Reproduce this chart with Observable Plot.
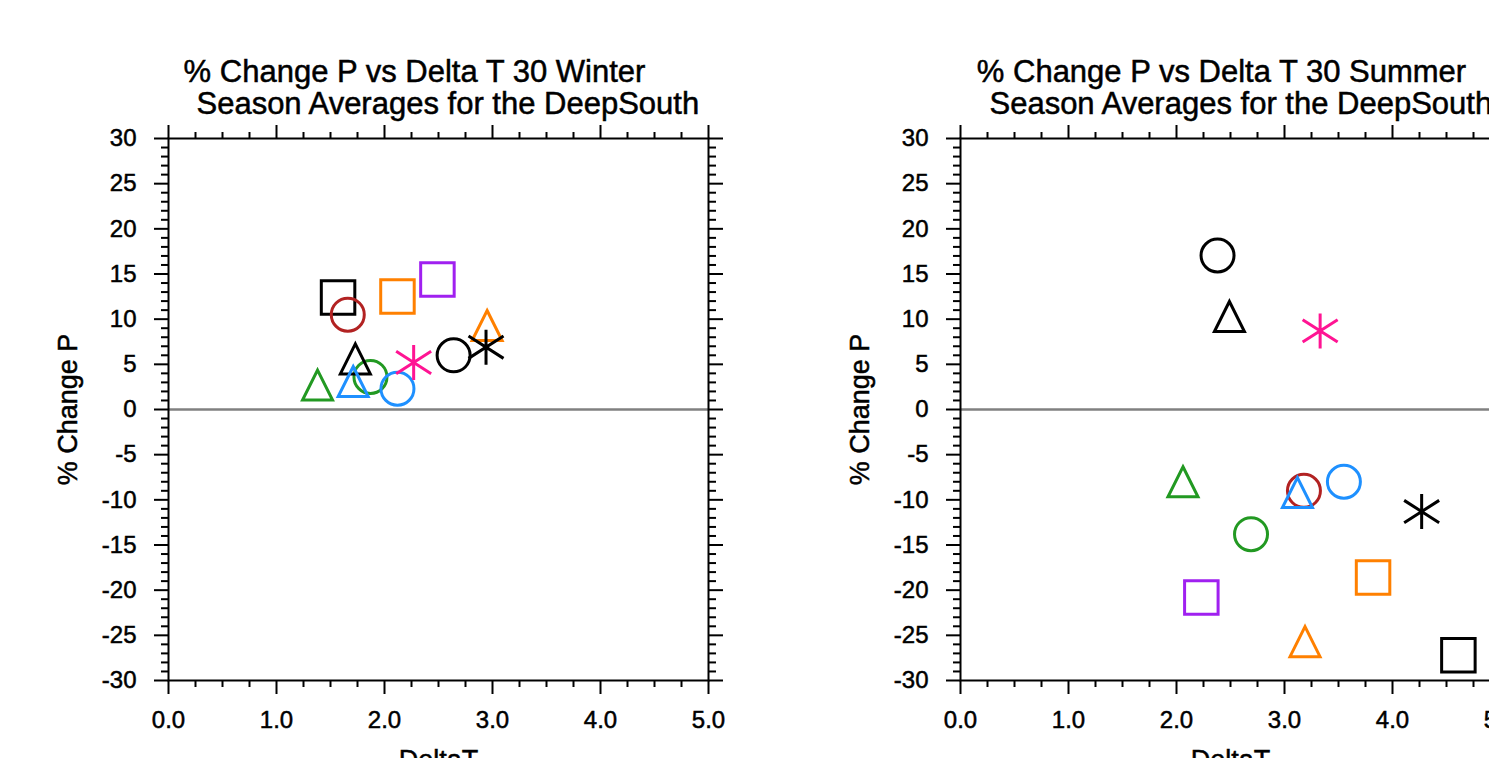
<!DOCTYPE html>
<html>
<head>
<meta charset="utf-8">
<script src="https://cdn.jsdelivr.net/npm/d3@7"></script>
<script src="https://cdn.jsdelivr.net/npm/@observablehq/plot@0.6"></script>
<style>
  html, body { margin: 0; padding: 0; background: #fff; }
  body { width: 1489px; height: 758px; overflow: hidden; position: relative; font-family: "Liberation Sans", Arial, sans-serif; }
  .panel { position: absolute; top: 0; width: 760px; height: 758px; }
  .panel svg { max-width: none !important; display: block; }
  .panel svg text { stroke: #000; stroke-width: 0.5px; paint-order: fill; }
</style>
</head>
<body>
<div id="left" class="panel" style="left:0px"></div>
<div id="right" class="panel" style="left:792px"></div>
<script>
// ---- data ----
const seriesShapes = ["square","circle","square","square","triangle","asterisk","circle","asterisk","triangle","circle","circle","triangle","triangle"];
const seriesColors = ["#000000","#b22222","#ff8000","#a020f0","#ff8000","#000000","#000000","#ff1493","#000000","#229922","#1e90ff","#1e90ff","#229922"];

const winterDeltaT = [1.57, 1.66, 2.12, 2.49, 2.95, 2.94, 2.64, 2.27, 1.73, 1.87, 2.12, 1.71, 1.38];
const winterPctP   = [12.4, 10.5, 12.5, 14.4,  9.3,  6.9,  6.0,  5.2,  5.6,  3.6,  2.3,  3.1,  2.7];

const summerDeltaT = [4.61, 3.18, 3.82, 2.23, 3.19, 4.27, 2.38, 3.33, 2.49, 2.69, 3.55, 3.12, 2.06];
const summerPctP   = [-27.2, -9.0, -18.6, -20.8, -25.7, -11.3, 17.05, 8.7, 10.3, -13.8, -8.0, -9.2, -8.0];

const xMajorTicks = [0, 1, 2, 3, 4, 5];
const yMajorTicks = [-30, -25, -20, -15, -10, -5, 0, 5, 10, 15, 20, 25, 30];
const xMinorTicks = d3.range(0, 5.001, 0.25).filter(v => Math.abs(v - Math.round(v)) > 1e-9);
const yMinorTicks = d3.range(-30, 31, 1).filter(v => v % 5 !== 0);

const winterTitle = ["% Change P vs Delta T 30 Winter", " Season Averages for the DeepSouth"];
const summerTitle = ["% Change P vs Delta T 30 Summer", " Season Averages for the DeepSouth"];

// ---- custom symbols ----
const triangleSym = {
  draw(ctx, size) {
    const r = Math.sqrt(size / Math.PI);
    ctx.moveTo(0, -r);
    ctx.lineTo(r, r);
    ctx.lineTo(-r, r);
    ctx.closePath();
  }
};
const asteriskSym = {
  draw(ctx, size) {
    const r = Math.sqrt(size / Math.PI);
    const k = 0.64;
    ctx.moveTo(0, -r); ctx.lineTo(0, r);
    ctx.moveTo(-r, -k * r); ctx.lineTo(r, k * r);
    ctx.moveTo(-r, k * r); ctx.lineTo(r, -k * r);
  }
};

const FONT = "'Liberation Sans', Arial, Helvetica, sans-serif";

function panel(dt, dp, title, d1, d2) {
  const data = seriesShapes.map((s, i) => ({x: dt[i], y: dp[i], shape: s, color: seriesColors[i]}));
  const of = s => data.filter(d => d.shape === s);
  const common = {x: "x", y: "y", stroke: "color", fill: "none", strokeWidth: 3};
  const axisStyle = {strokeWidth: 2, stroke: "black", label: null};
  const txt = {text: d => d, fill: "black", textAnchor: "middle", lineAnchor: "middle"};
  return Plot.plot({
    width: 760, height: 758,
    marginLeft: 168, marginRight: 52, marginTop: 138, marginBottom: 78,
    x: {domain: [0, 5]},
    y: {domain: [-30, 30]},
    color: {type: "identity"},
    style: {fontFamily: FONT, background: "white", color: "black"},
    marks: [
      Plot.ruleY([0], {stroke: "#808080", strokeWidth: 2.5}),
      // x axes
      Plot.axisX(xMajorTicks, {...axisStyle, anchor: "bottom", tickSize: 14, tickPadding: 16, fontSize: 24, tickFormat: d => d.toFixed(1)}),
      Plot.axisX(xMinorTicks, {...axisStyle, anchor: "bottom", tickSize: 7, tickFormat: () => ""}),
      Plot.axisX(xMajorTicks, {...axisStyle, anchor: "top", tickSize: 14, tickFormat: () => ""}),
      Plot.axisX(xMinorTicks, {...axisStyle, anchor: "top", tickSize: 7, tickFormat: () => ""}),
      // y axes
      Plot.axisY(yMajorTicks, {...axisStyle, anchor: "left", tickSize: 14, tickPadding: 18, fontSize: 24, tickFormat: d => String(d)}),
      Plot.axisY(yMinorTicks, {...axisStyle, anchor: "left", tickSize: 7, tickFormat: () => ""}),
      Plot.axisY(yMajorTicks, {...axisStyle, anchor: "right", tickSize: 14, tickFormat: () => ""}),
      Plot.axisY(yMinorTicks, {...axisStyle, anchor: "right", tickSize: 7, tickFormat: () => ""}),
      Plot.frame({stroke: "black", strokeWidth: 2}),
      // markers
      Plot.dot(of("square"), {...common, symbol: "square", r: 18.9}),
      Plot.dot(of("circle"), {...common, symbol: "circle", r: 16.5}),
      Plot.dot(of("triangle"), {...common, symbol: triangleSym, r: 15}),
      Plot.dot(of("asterisk"), {...common, symbol: asteriskSym, r: 17.5}),
      // titles and axis labels
      Plot.text([title[0]], {...txt, frameAnchor: "top", dy: -66, dx: d1, fontSize: 31}),
      Plot.text([title[1]], {...txt, frameAnchor: "top", dy: -34, dx: d2, fontSize: 31}),
      Plot.text(["% Change P"], {...txt, frameAnchor: "left", dx: -100, rotate: -90, fontSize: 27}),
      Plot.text(["DeltaT"], {...txt, frameAnchor: "bottom", dy: 80, fontSize: 27})
    ]
  });
}

document.getElementById("left").appendChild(panel(winterDeltaT, winterPctP, winterTitle, -24, 5));
document.getElementById("right").appendChild(panel(summerDeltaT, summerPctP, summerTitle, -9, 6));
</script>
</body>
</html>
